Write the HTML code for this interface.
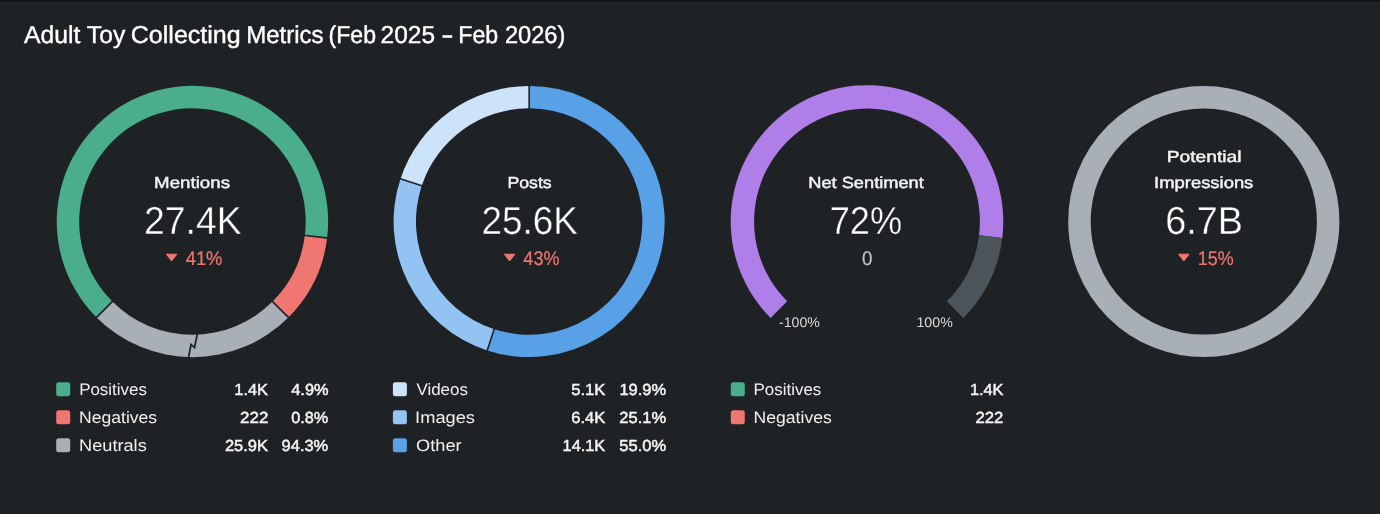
<!DOCTYPE html>
<html><head><meta charset="utf-8"><title>Adult Toy Collecting Metrics</title>
<style>
html,body{margin:0;padding:0;background:#1f2225;}
body{width:1380px;height:514px;overflow:hidden;position:relative;}
.topline{position:absolute;left:0;top:0;width:1380px;height:1px;background:#0e1114;box-shadow:0 1px 0 #181b1e;}
svg{position:absolute;left:0;top:0;will-change:transform;}
text{font-family:"Liberation Sans",Arial,sans-serif;text-rendering:geometricPrecision;}
.title{font-size:24.5px;fill:#ffffff;stroke:#ffffff;stroke-width:0.4px;}
.ct{font-size:16px;fill:#f4f4f4;stroke:#f4f4f4;stroke-width:0.45px;}
.cv{font-size:39px;fill:#ffffff;stroke:#1f2225;stroke-width:0.4px;}
.cd{font-size:19.8px;fill:#f07672;stroke:#f07672;stroke-width:0.2px;}
.cs{font-size:19.8px;fill:#c0c4c8;stroke:#c0c4c8;stroke-width:0.2px;}
.gl{font-size:14px;fill:#dcdcdc;}
.ll{font-size:16.6px;fill:#f0f0f0;}
.lv{font-size:16px;fill:#f4f4f4;stroke:#f4f4f4;stroke-width:0.5px;}
</style></head>
<body>
<div class="topline"></div>
<svg width="1380" height="514" viewBox="0 0 1380 514">
<path d="M96.50 317.45A135.7 135.7 0 1 1 327.14 238.04L304.86 235.30A113.25 113.25 0 1 0 112.37 301.58Z" fill="#4aae8c"/>
<path d="M327.14 238.04A135.7 135.7 0 0 1 288.40 317.45L272.53 301.58A113.25 113.25 0 0 0 304.86 235.30Z" fill="#f07672"/>
<path d="M288.40 317.45A135.7 135.7 0 0 1 96.50 317.45L112.37 301.58A113.25 113.25 0 0 0 272.53 301.58Z" fill="#a8afb7"/>
<line x1="303.86" y1="235.18" x2="328.13" y2="238.16" stroke="#1f2225" stroke-width="1.6"/>
<line x1="271.82" y1="300.87" x2="289.11" y2="318.16" stroke="#1f2225" stroke-width="1.6"/>
<line x1="113.08" y1="300.87" x2="95.79" y2="318.16" stroke="#1f2225" stroke-width="1.6"/>
<polyline points="197.6,332.8 194.5,347.6 191,344.4 188.4,358.6" fill="none" stroke="#1f2225" stroke-width="1.8"/>
<path d="M529.15 85.95A135.55 135.55 0 1 1 487.26 350.42L494.17 329.16A113.2 113.2 0 1 0 529.15 108.30Z" fill="#58a1e6"/>
<path d="M487.26 350.42A135.55 135.55 0 0 1 400.53 178.71L421.74 185.77A113.2 113.2 0 0 0 494.17 329.16Z" fill="#93c3f2"/>
<path d="M400.53 178.71A135.55 135.55 0 0 1 529.15 85.95L529.15 108.30A113.2 113.2 0 0 0 421.74 185.77Z" fill="#cde3fa"/>
<line x1="529.15" y1="109.30" x2="529.15" y2="84.95" stroke="#1f2225" stroke-width="1.6"/>
<line x1="494.48" y1="328.21" x2="486.95" y2="351.37" stroke="#1f2225" stroke-width="1.6"/>
<line x1="422.69" y1="186.08" x2="399.58" y2="178.40" stroke="#1f2225" stroke-width="1.6"/>
<path d="M770.62 317.88A136.3 136.3 0 1 1 1002.28 238.11L979.06 235.26A112.9 112.9 0 1 0 787.17 301.33Z" fill="#b07ee8"/>
<path d="M1002.28 238.11A136.3 136.3 0 0 1 963.38 317.88L946.83 301.33A112.9 112.9 0 0 0 979.06 235.26Z" fill="#4a545a"/>
<circle cx="1203.8" cy="221.5" r="124.35" fill="none" stroke="#a8afb7" stroke-width="22.5"/>
<path d="M166.4 254.20000000000002L176.8 254.20000000000002L171.60000000000002 261.0Z" fill="#f07672" stroke="#f07672" stroke-width="1" stroke-linejoin="round"/>
<path d="M504.3 254.20000000000002L514.9 254.20000000000002L509.6 261.0Z" fill="#f07672" stroke="#f07672" stroke-width="1" stroke-linejoin="round"/>
<path d="M1178.5 254.20000000000002L1189.1 254.20000000000002L1183.8 261.0Z" fill="#f07672" stroke="#f07672" stroke-width="1" stroke-linejoin="round"/>
<rect x="56.2" y="382.2" width="14" height="14" rx="2.5" fill="#4aae8c"/>
<rect x="56.2" y="410.2" width="14" height="14" rx="2.5" fill="#f07672"/>
<rect x="56.2" y="438.2" width="14" height="14" rx="2.5" fill="#a8afb7"/>
<rect x="392.9" y="382.2" width="14" height="14" rx="2.5" fill="#cde3fa"/>
<rect x="392.9" y="410.2" width="14" height="14" rx="2.5" fill="#93c3f2"/>
<rect x="392.9" y="438.2" width="14" height="14" rx="2.5" fill="#58a1e6"/>
<rect x="730.8" y="382.2" width="14" height="14" rx="2.5" fill="#4aae8c"/>
<rect x="730.8" y="410.2" width="14" height="14" rx="2.5" fill="#f07672"/>
<text x="23.96" y="43" class="title" textLength="56.31" lengthAdjust="spacingAndGlyphs">Adult</text>
<text x="86.89" y="43" class="title" textLength="38.38" lengthAdjust="spacingAndGlyphs">Toy</text>
<text x="130.81" y="43" class="title" textLength="109.93" lengthAdjust="spacingAndGlyphs">Collecting</text>
<text x="246.16" y="43" class="title" textLength="77.40" lengthAdjust="spacingAndGlyphs">Metrics</text>
<text x="328.58" y="43" class="title" textLength="47.48" lengthAdjust="spacingAndGlyphs">(Feb</text>
<text x="380.62" y="43" class="title" textLength="54.39" lengthAdjust="spacingAndGlyphs">2025</text>
<text x="441.31" y="43" class="title" textLength="12.30" lengthAdjust="spacingAndGlyphs">-</text>
<text x="458.32" y="43" class="title" textLength="39.96" lengthAdjust="spacingAndGlyphs">Feb</text>
<text x="504.89" y="43" class="title" textLength="60.50" lengthAdjust="spacingAndGlyphs">2026)</text>
<text x="154.13" y="188" class="ct" textLength="75.86" lengthAdjust="spacingAndGlyphs">Mentions</text>
<text x="144.10" y="234" class="cv" textLength="97.53" lengthAdjust="spacingAndGlyphs">27.4K</text>
<text x="185.72" y="265" class="cd" textLength="36.65" lengthAdjust="spacingAndGlyphs">41%</text>
<text x="507.44" y="188" class="ct" textLength="44.22" lengthAdjust="spacingAndGlyphs">Posts</text>
<text x="481.46" y="234" class="cv" textLength="96.32" lengthAdjust="spacingAndGlyphs">25.6K</text>
<text x="523.37" y="265" class="cd" textLength="36.13" lengthAdjust="spacingAndGlyphs">43%</text>
<text x="808.22" y="188" class="ct" textLength="115.60" lengthAdjust="spacingAndGlyphs">Net Sentiment</text>
<text x="829.64" y="234" class="cv" textLength="72.50" lengthAdjust="spacingAndGlyphs">72%</text>
<text x="861.97" y="265" class="cs" textLength="10.45" lengthAdjust="spacingAndGlyphs">0</text>
<text x="778.96" y="327" class="gl" textLength="40.95" lengthAdjust="spacingAndGlyphs">-100%</text>
<text x="916.47" y="327" class="gl" textLength="36.30" lengthAdjust="spacingAndGlyphs">100%</text>
<text x="1166.84" y="162" class="ct" textLength="74.57" lengthAdjust="spacingAndGlyphs">Potential</text>
<text x="1154.12" y="188" class="ct" textLength="99.22" lengthAdjust="spacingAndGlyphs">Impressions</text>
<text x="1165.15" y="234" class="cv" textLength="77.77" lengthAdjust="spacingAndGlyphs">6.7B</text>
<text x="1197.72" y="265" class="cd" textLength="35.88" lengthAdjust="spacingAndGlyphs">15%</text>
<text x="79.16" y="395" class="ll" textLength="67.76" lengthAdjust="spacingAndGlyphs">Positives</text>
<text x="79.01" y="423" class="ll" textLength="78.15" lengthAdjust="spacingAndGlyphs">Negatives</text>
<text x="79.04" y="451" class="ll" textLength="67.70" lengthAdjust="spacingAndGlyphs">Neutrals</text>
<text x="234.31" y="395" class="lv" textLength="33.69" lengthAdjust="spacingAndGlyphs">1.4K</text>
<text x="240.13" y="423" class="lv" textLength="28.21" lengthAdjust="spacingAndGlyphs">222</text>
<text x="224.90" y="451" class="lv" textLength="43.07" lengthAdjust="spacingAndGlyphs">25.9K</text>
<text x="291.27" y="395" class="lv" textLength="37.30" lengthAdjust="spacingAndGlyphs">4.9%</text>
<text x="291.27" y="423" class="lv" textLength="37.05" lengthAdjust="spacingAndGlyphs">0.8%</text>
<text x="281.61" y="451" class="lv" textLength="46.61" lengthAdjust="spacingAndGlyphs">94.3%</text>
<text x="416.41" y="395" class="ll" textLength="51.45" lengthAdjust="spacingAndGlyphs">Videos</text>
<text x="415.14" y="423" class="ll" textLength="59.87" lengthAdjust="spacingAndGlyphs">Images</text>
<text x="416.13" y="451" class="ll" textLength="45.50" lengthAdjust="spacingAndGlyphs">Other</text>
<text x="571.26" y="395" class="lv" textLength="34.10" lengthAdjust="spacingAndGlyphs">5.1K</text>
<text x="571.23" y="423" class="lv" textLength="34.06" lengthAdjust="spacingAndGlyphs">6.4K</text>
<text x="562.60" y="451" class="lv" textLength="42.58" lengthAdjust="spacingAndGlyphs">14.1K</text>
<text x="619.45" y="395" class="lv" textLength="46.78" lengthAdjust="spacingAndGlyphs">19.9%</text>
<text x="619.29" y="423" class="lv" textLength="46.81" lengthAdjust="spacingAndGlyphs">25.1%</text>
<text x="619.30" y="451" class="lv" textLength="46.86" lengthAdjust="spacingAndGlyphs">55.0%</text>
<text x="753.55" y="395" class="ll" textLength="67.72" lengthAdjust="spacingAndGlyphs">Positives</text>
<text x="753.52" y="423" class="ll" textLength="78.27" lengthAdjust="spacingAndGlyphs">Negatives</text>
<text x="969.92" y="395" class="lv" textLength="33.58" lengthAdjust="spacingAndGlyphs">1.4K</text>
<text x="975.47" y="423" class="lv" textLength="27.77" lengthAdjust="spacingAndGlyphs">222</text>
</svg>
</body></html>
